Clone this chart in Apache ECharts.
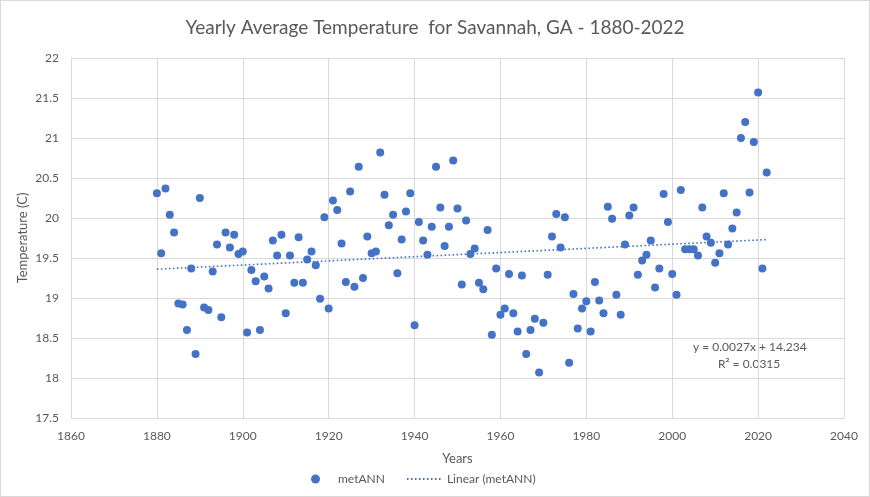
<!DOCTYPE html>
<html>
<head>
<meta charset="utf-8">
<script src="https://cdn.jsdelivr.net/npm/echarts@6/dist/echarts.min.js"></script>
<style>
html,body{margin:0;padding:0;background:#fff;}
#chart{width:870px;height:497px;box-sizing:border-box;border:1px solid #d9d9d9;}
</style>
</head>
<body>
<div id="chart"></div>
<script>
const startYear = 1880;
const temps = [
20.31,19.56,20.37,20.04,19.82,18.93,18.92,18.60,19.37,18.30,
20.25,18.88,18.85,19.33,19.67,18.76,19.82,19.63,19.79,19.55,
19.58,18.57,19.35,19.21,18.60,19.27,19.12,19.72,19.53,19.79,
18.81,19.53,19.19,19.76,19.19,19.48,19.58,19.41,18.99,20.01,
18.87,20.22,20.10,19.68,19.20,20.33,19.14,20.64,19.25,19.77,
19.56,19.58,20.82,20.29,19.91,20.04,19.31,19.73,20.08,20.31,
18.66,19.95,19.72,19.54,19.89,20.64,20.13,19.65,19.89,20.72,
20.12,19.17,19.97,19.55,19.62,19.19,19.11,19.85,18.54,19.37,
18.79,18.87,19.30,18.81,18.58,19.28,18.30,18.60,18.74,18.07,
18.69,19.29,19.77,20.05,19.63,20.01,18.19,19.05,18.62,18.87,
18.96,18.58,19.20,18.97,18.81,20.14,19.99,19.04,18.79,19.67,
20.03,20.13,19.29,19.47,19.54,19.72,19.13,19.37,20.30,19.95,
19.30,19.04,20.35,19.61,19.61,19.61,19.53,20.13,19.77,19.69,
19.44,19.56,20.31,19.67,19.87,20.07,21.00,21.20,20.32,20.95,
21.57,19.37,20.57
];
const trendYears = [1880, 2022];
const trendValues = [19.36, 19.73];
const equationText = 'y = 0.0027x + 14.234';
const r2Text = 'R² = 0.0315';

const scatterData = temps.map((v, i) => [startYear + i, v]);
const trendData = trendYears.map((y, i) => [y, trendValues[i]]);

const txt = '#595959';
const grid = '#d9d9d9';
const blue = '#4472C4';
const font = 'Lato, "Open Sans", sans-serif';

const chart = echarts.init(document.getElementById('chart'));
chart.setOption({
  animation: false,
  backgroundColor: '#fff',
  title: {
    text: 'Yearly Average Temperature  for Savannah, GA - 1880-2022',
    left: 'center', top: 12,
    textStyle: {color: txt, fontSize: 19, fontWeight: 'normal', fontFamily: font}
  },
  grid: {left: 70, right: 25, top: 57, bottom: 78},
  xAxis: {
    type: 'value', min: 1860, max: 2040, interval: 20,
    name: 'Years', nameLocation: 'middle', nameGap: 34,
    nameTextStyle: {color: txt, fontSize: 13, fontFamily: font},
    axisLine: {show: true, lineStyle: {color: grid}},
    axisTick: {show: false},
    axisLabel: {color: txt, fontSize: 12, fontFamily: font, margin: 12, formatter: v => String(v)},
    splitLine: {show: true, lineStyle: {color: grid, width: 1}}
  },
  yAxis: {
    type: 'value', min: 17.5, max: 22, interval: 0.5,
    name: 'Temperature (C)', nameLocation: 'middle', nameGap: 42, nameMoveOverlap: false,
    nameTextStyle: {color: txt, fontSize: 13, fontFamily: font},
    axisLine: {show: true, lineStyle: {color: grid}},
    axisTick: {show: false},
    axisLabel: {color: txt, fontSize: 12, fontFamily: font, margin: 12},
    splitLine: {show: true, lineStyle: {color: grid, width: 1}}
  },
  legend: {
    bottom: 6, left: 305, itemGap: 21, itemWidth: 35, itemHeight: 9,
    textStyle: {color: txt, fontSize: 12, fontFamily: font},
    data: [
      {name: 'metANN', icon: 'circle'},
      {name: 'Linear (metANN)', itemStyle: {opacity: 0, borderWidth: 0}}
    ]
  },
  series: [
    {
      name: 'metANN', type: 'scatter', data: scatterData,
      symbolSize: 8, itemStyle: {color: blue, opacity: 1}
    },
    {
      name: 'Linear (metANN)', type: 'line', data: trendData,
      symbol: 'none', showSymbol: false,
      lineStyle: {color: blue, width: 1.6, type: [1.6, 2.4]},
      itemStyle: {color: blue}
    }
  ],
  graphic: [
    {type: 'text', left: 692, top: 340, style: {text: equationText, fill: txt, fontSize: 12, fontFamily: font}},
    {type: 'text', left: 717, top: 357, style: {text: r2Text, fill: txt, fontSize: 12, fontFamily: font}}
  ]
});
</script>
</body>
</html>
